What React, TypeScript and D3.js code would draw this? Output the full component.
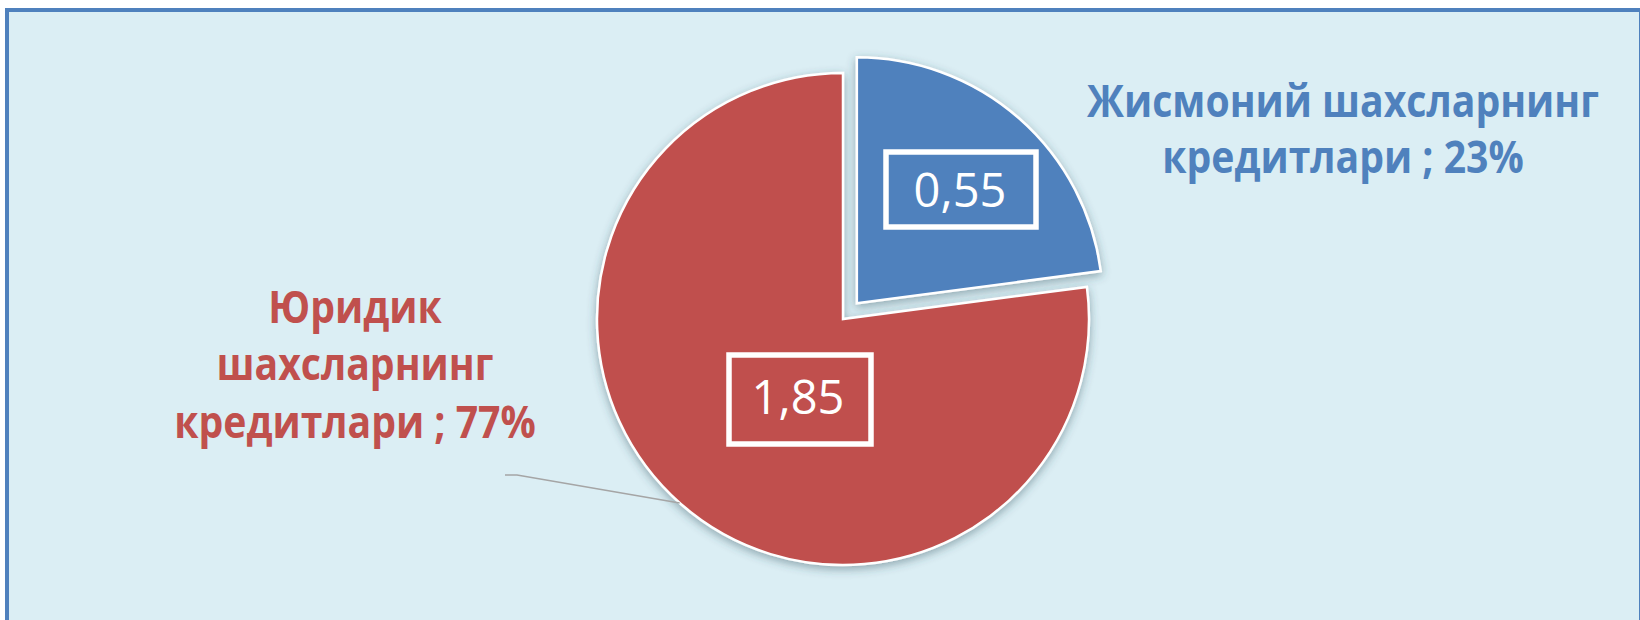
import React from "react";
import * as d3 from "d3";

const categories = ["Жисмоний шахсларнинг кредитлари", "Юридик шахсларнинг кредитлари"];
const values = [0.55, 1.85];
const colors = ["#4F81BD", "#C0504D"];
const explode = [21, 0];
// category label line breaks
const categoryLines = [
  ["Жисмоний шахсларнинг", "кредитлари"],
  ["Юридик", "шахсларнинг", "кредитлари"],
];

const W = 1640;
const H = 620;
const cx = 843;
const cy = 319;
const R = 246;

const locale = d3.formatLocale({ decimal: ",", thousands: " ", grouping: [3], currency: ["", ""] });
const fmtVal = locale.format(".2f");

// layout for labels (layout, not data)
const valueBoxes = [
  { x: 886, y: 152, w: 150, h: 75, tx: 960, ty: 207 },
  { x: 729, y: 355, w: 142, h: 89, tx: 798, ty: 414 },
];
const catLabelPos = [
  { x: 1343, y: 117, dy: 56 },
  { x: 355, y: 323, dy: 57.5 },
];

export default function App() {
  const total = d3.sum(values);
  const pie = d3.pie<number>().sort(null).startAngle(0).endAngle(2 * Math.PI)(values);
  const arc = d3.arc<d3.PieArcDatum<number>>().innerRadius(0).outerRadius(R);

  // leader line for second slice
  const leaderAngle = 221.6 * Math.PI / 180;
  const px = cx + R * Math.sin(leaderAngle);
  const py = cy - R * Math.cos(leaderAngle);

  return (
    <svg width={W} height={H} style={{ position: "absolute", left: 0, top: 0, display: "block" }}>
      <defs>
        <filter id="sh" x="-20%" y="-20%" width="140%" height="140%">
          <feDropShadow dx="0" dy="3" stdDeviation="5" floodColor="#2f4f5a" floodOpacity="0.45" />
        </filter>
      </defs>
      <rect x={0} y={0} width={W} height={H} fill="#ffffff" />
      <rect x={7} y={10} width={1634} height={H + 20} fill="#DBEEF4" stroke="#4F81BD" strokeWidth={4} />
      <g>
        {pie.map((d, i) => {
          const mid = (d.startAngle + d.endAngle) / 2;
          const ox = explode[i] * Math.sin(mid);
          const oy = -explode[i] * Math.cos(mid);
          return (
            <path
              key={i}
              d={arc(d) || ""}
              transform={`translate(${cx + ox},${cy + oy})`}
              fill={colors[i]}
              stroke="#ffffff"
              strokeWidth={2.5}
              strokeLinejoin="miter"
              filter="url(#sh)"
            />
          );
        })}
      </g>
      {/* leader line */}
      <polyline
        points={`505,475 517,475 ${px},${py}`}
        fill="none"
        stroke="#A5A5A5"
        strokeWidth={1.6}
      />
      {/* value boxes */}
      {values.map((v, i) => {
        const b = valueBoxes[i];
        return (
          <g key={i}>
            <rect x={b.x} y={b.y} width={b.w} height={b.h} fill="none" stroke="#ffffff" strokeWidth={5.5} />
            <text
              x={b.tx}
              y={b.ty}
              textAnchor="middle"
              fill="#ffffff"
              fontFamily="'Open Sans', 'Noto Sans', sans-serif"
              fontSize={47}
            >
              {fmtVal(v)}
            </text>
          </g>
        );
      })}
      {/* category labels */}
      {categories.map((c, i) => {
        const p = catLabelPos[i];
        const pct = d3.format(".0%")(values[i] / total);
        const lines = categoryLines[i].slice();
        lines[lines.length - 1] = lines[lines.length - 1] + " ; " + pct;
        return (
          <text
            key={c}
            transform={`translate(${p.x},0) scale(0.89,1)`}
            textAnchor="middle"
            fill={colors[i]}
            fontFamily="'Open Sans', 'Noto Sans', sans-serif"
            fontWeight={700}
            fontSize={44}
          >
            {lines.map((l, j) => (
              <tspan key={j} x={0} y={p.y + j * p.dy}>
                {l}
              </tspan>
            ))}
          </text>
        );
      })}
    </svg>
  );
}
